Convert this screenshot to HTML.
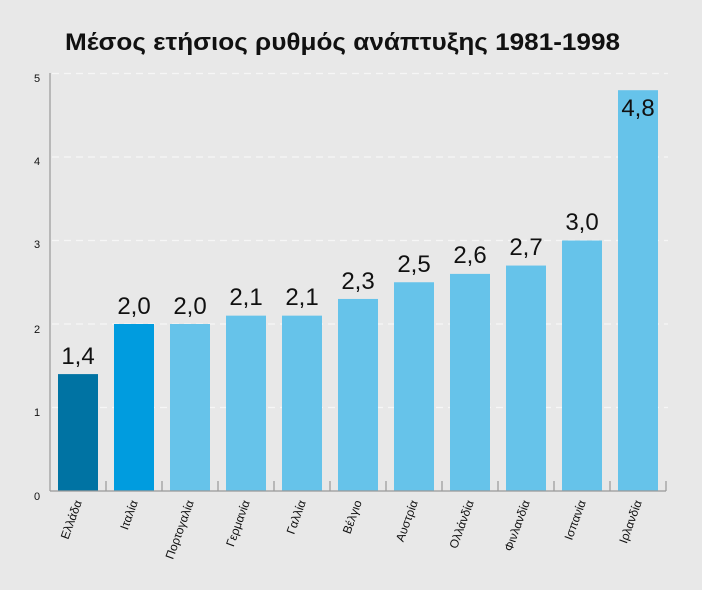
<!DOCTYPE html>
<html><head><meta charset="utf-8"><style>
body{margin:0;background:#e8e8e8;}
svg{display:block;font-family:"Liberation Sans","DejaVu Sans",sans-serif;}
</style></head><body>
<svg width="702" height="590" viewBox="0 0 702 590">
<rect width="702" height="590" fill="#e8e8e8"/>
<text x="65" y="50" font-size="24" font-weight="bold" fill="#111" textLength="555" lengthAdjust="spacingAndGlyphs">Μέσος ετήσιος  ρυθμός ανάπτυξης 1981-1998</text>
<g stroke="#f6f6f6" stroke-width="1.2" stroke-dasharray="7,5">
<line x1="52" y1="73.5" x2="668" y2="73.5"/>
<line x1="52" y1="157" x2="668" y2="157"/>
<line x1="52" y1="240.5" x2="668" y2="240.5"/>
<line x1="52" y1="324" x2="668" y2="324"/>
<line x1="52" y1="407.5" x2="668" y2="407.5"/>
</g>
<g font-size="11" fill="#111" text-anchor="middle">
<text x="37" y="82">5</text><text x="37" y="165">4</text><text x="37" y="248">3</text><text x="37" y="333">2</text><text x="37" y="416">1</text><text x="37" y="500">0</text>
</g>
<g>
<rect x="58" y="374.1" width="40" height="116.9" fill="#0073a3"/>
<rect x="114" y="324" width="40" height="167" fill="#009cdf"/>
<rect x="170" y="324" width="40" height="167" fill="#66c3ea"/>
<rect x="226" y="315.65" width="40" height="175.35" fill="#66c3ea"/>
<rect x="282" y="315.65" width="40" height="175.35" fill="#66c3ea"/>
<rect x="338" y="298.95" width="40" height="192.05" fill="#66c3ea"/>
<rect x="394" y="282.25" width="40" height="208.75" fill="#66c3ea"/>
<rect x="450" y="273.9" width="40" height="217.1" fill="#66c3ea"/>
<rect x="506" y="265.55" width="40" height="225.45" fill="#66c3ea"/>
<rect x="562" y="240.5" width="40" height="250.5" fill="#66c3ea"/>
<rect x="618" y="90.2" width="40" height="400.8" fill="#66c3ea"/>
</g>
<g stroke="#999" stroke-width="1.2" fill="none">
<line x1="50" y1="73" x2="50" y2="491"/>
<line x1="50" y1="491" x2="666" y2="491"/>
<path d="M106 491V481M162 491V481M218 491V481M274 491V481M330 491V481M386 491V481M442 491V481M498 491V481M554 491V481M610 491V481M666 491V481"/>
</g>
<g font-size="24" fill="#111" text-anchor="middle">
<text x="78" y="364">1,4</text><text x="134" y="314">2,0</text><text x="190" y="314">2,0</text>
<text x="246" y="305">2,1</text><text x="302" y="305">2,1</text><text x="358" y="289">2,3</text>
<text x="414" y="272">2,5</text><text x="470" y="263">2,6</text><text x="526" y="255">2,7</text>
<text x="582" y="230">3,0</text><text x="638" y="116">4,8</text>
</g>
<g font-size="12" fill="#111" text-anchor="end">
<text transform="translate(82,502) rotate(-70)">Ελλάδα</text>
<text transform="translate(138,502) rotate(-70)">Ιταλία</text>
<text transform="translate(194,502) rotate(-70)">Πορτογαλία</text>
<text transform="translate(250,502) rotate(-70)">Γερμανία</text>
<text transform="translate(306,502) rotate(-70)">Γαλλία</text>
<text transform="translate(362,502) rotate(-70)">Βέλγιο</text>
<text transform="translate(418,502) rotate(-70)">Αυστρία</text>
<text transform="translate(474,502) rotate(-70)">Ολλάνδία</text>
<text transform="translate(530,502) rotate(-70)">Φινλανδία</text>
<text transform="translate(586,502) rotate(-70)">Ισπανία</text>
<text transform="translate(642,502) rotate(-70)">Ιρλανδία</text>
</g>
</svg>
</body></html>
